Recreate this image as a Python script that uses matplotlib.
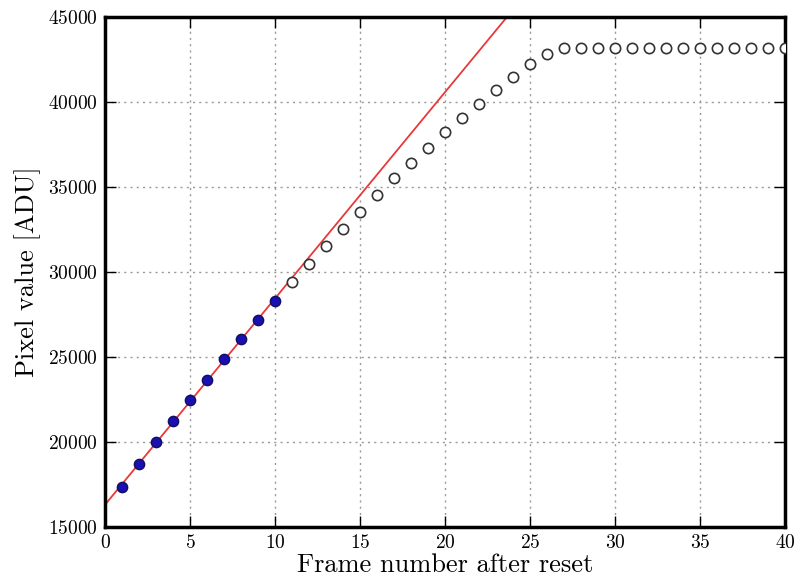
import numpy as np
import matplotlib
matplotlib.use('Agg')
import matplotlib.pyplot as plt

plt.rcParams['font.family'] = ['cmr10', 'DejaVu Serif']
plt.rcParams['axes.formatter.use_mathtext'] = True
plt.rcParams['mathtext.fontset'] = 'cm'

# Ramp frames used for the fit (linear regime)
fit_frames = [1, 2, 3, 4, 5, 6, 7, 8, 9, 10]
fit_values = [17350, 18700, 20000, 21240, 22470, 23650, 24880, 26060, 27180, 28290]

# Remaining frames (non-linear / saturated)
other_frames = list(range(11, 41))
other_values = [29410, 30470, 31530, 32530, 33530, 34530, 35530, 36410, 37290, 38240,
                39060, 39880, 40700, 41470, 42240, 42820, 43180, 43180, 43180, 43180,
                43180, 43180, 43180, 43180, 43180, 43180, 43180, 43180, 43180, 43180]

# Linear fit to the first frames
slope, intercept = np.polyfit(fit_frames, fit_values, 1)
xline = np.array([0, 40])

fig = plt.figure(figsize=(7.98, 5.80), dpi=100)
ax = fig.add_axes([105/798, 1 - 527/580, 680/798, 510/580])

ax.grid(True, color='#999999', linestyle=(0, (1.5, 3)), linewidth=1.0)
ax.set_axisbelow(True)

ax.plot(xline, slope * xline + intercept, color='#e8393a', lw=1.3, zorder=2)
ax.scatter(other_frames, other_values, s=55, facecolors='white', edgecolors='#333333',
           linewidths=1.2, zorder=3)
ax.scatter(fit_frames, fit_values, s=55, facecolors='#1a0fb0', edgecolors='#101060',
           linewidths=1.0, zorder=4)

ax.set_xlim(0, 40)
ax.set_ylim(15000, 45000)
ax.set_xticks(range(0, 41, 5))
ax.set_yticks(range(15000, 45001, 5000))

for s in ax.spines.values():
    s.set_linewidth(2.5)
ax.tick_params(direction='in', length=8, width=1, top=True, right=True, labelsize=14, pad=5)

ax.set_xlabel('Frame number after reset', fontsize=19, labelpad=1)
ax.set_ylabel('Pixel value [ADU]', fontsize=19, labelpad=5)

fig.savefig('out.png', dpi=100)
